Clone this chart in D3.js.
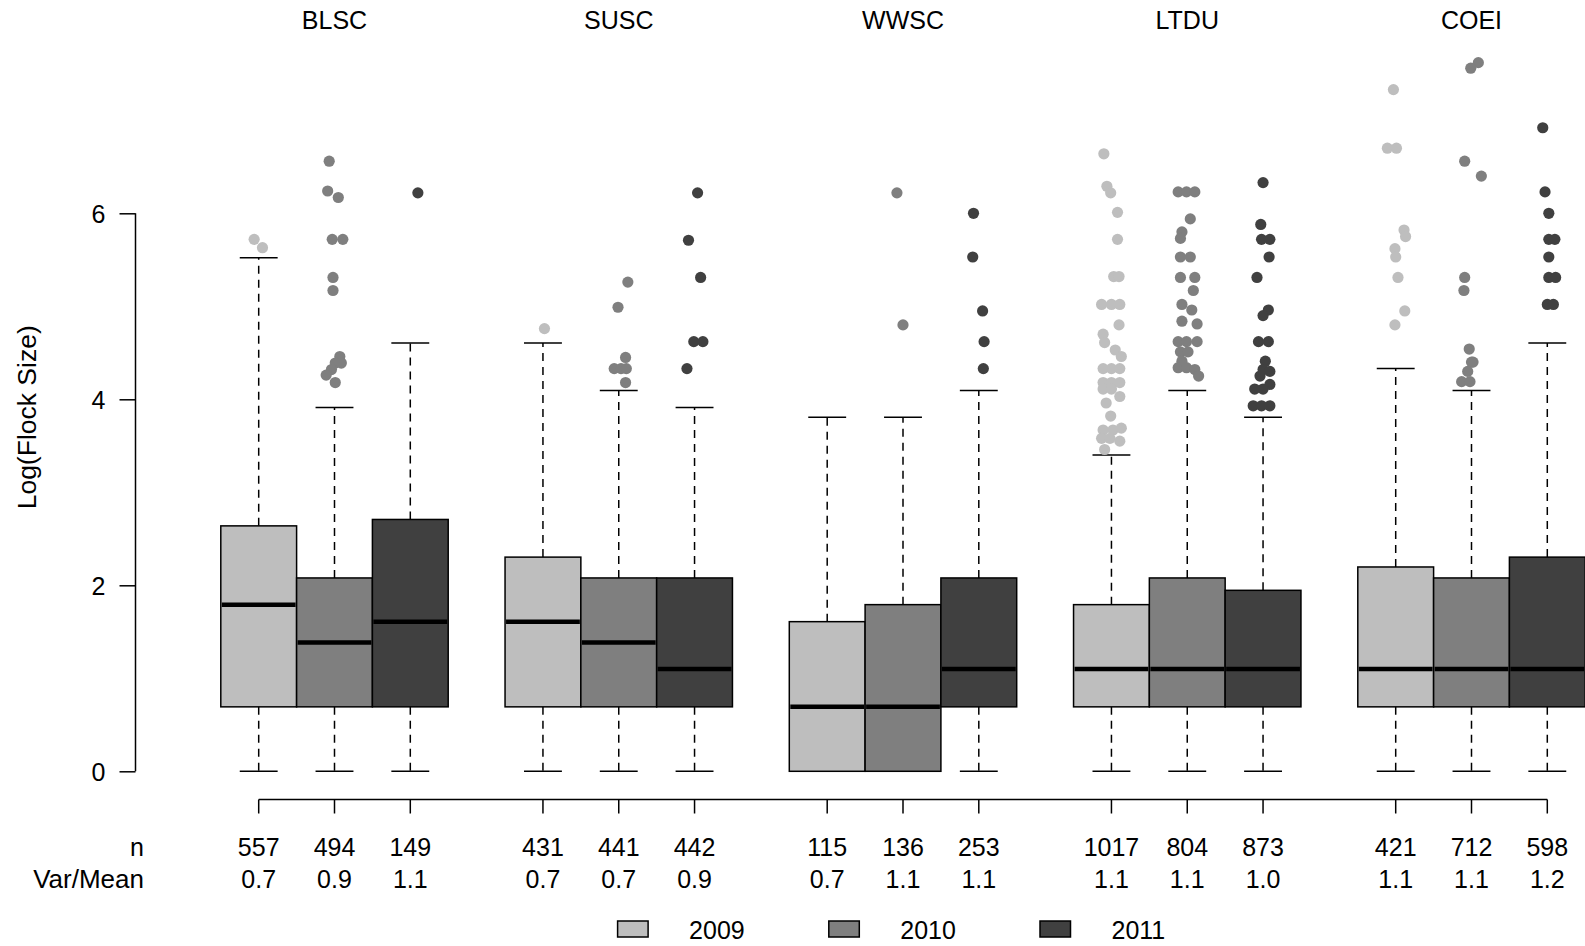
<!DOCTYPE html>
<html>
<head>
<meta charset="utf-8">
<script src="https://cdn.jsdelivr.net/npm/d3@7"></script>
<style>
  html, body { margin: 0; padding: 0; background: #fff; }
  svg text { font-family: "Liberation Sans", Arial, Helvetica, sans-serif; fill: #000; }
</style>
</head>
<body>
<div id="chart"></div>
<script>
// ---- data ----
const species = ["BLSC", "SUSC", "WWSC", "LTDU", "COEI"];
const years = ["2009", "2010", "2011"];
const yearColors = ["#bebebe", "#7f7f7f", "#404040"];
const yTicks = [0, 2, 4, 6];

// n per species x year
const nObs = [
  [557, 494, 149],
  [431, 441, 442],
  [115, 136, 253],
  [1017, 804, 873],
  [421, 712, 598]
];
// variance / mean ratio per species x year
const varMean = [
  ["0.7", "0.9", "1.1"],
  ["0.7", "0.7", "0.9"],
  ["0.7", "1.1", "1.1"],
  ["1.1", "1.1", "1.0"],
  ["1.1", "1.1", "1.2"]
];
// box stats [lower whisker, Q1, median, Q3, upper whisker] (log flock size)
const boxStats = [
  [[0, 0.693, 1.792, 2.639, 5.521], [0, 0.693, 1.386, 2.079, 3.912], [0, 0.693, 1.609, 2.708, 4.605]],
  [[0, 0.693, 1.609, 2.303, 4.605], [0, 0.693, 1.386, 2.079, 4.094], [0, 0.693, 1.099, 2.079, 3.912]],
  [[0, 0, 0.693, 1.609, 3.807], [0, 0, 0.693, 1.792, 3.807], [0, 0.693, 1.099, 2.079, 4.094]],
  [[0, 0.693, 1.099, 1.792, 3.401], [0, 0.693, 1.099, 2.079, 4.094], [0, 0.693, 1.099, 1.946, 3.807]],
  [[0, 0.693, 1.099, 2.197, 4.331], [0, 0.693, 1.099, 2.079, 4.094], [0, 0.693, 1.099, 2.303, 4.605]]
];
// outliers [value, horizontal jitter in box widths]
const outliers = [
  [
    [[5.72, -0.06], [5.63, 0.05]],
    [[6.56, -0.07], [6.24, -0.09], [6.17, 0.05], [5.72, -0.03], [5.72, 0.11], [5.31, -0.02], [5.17, -0.02],
     [4.46, 0.07], [4.39, 0.01], [4.39, 0.09], [4.32, -0.04], [4.26, -0.11], [4.18, 0.01]],
    [[6.22, 0.10]]
  ],
  [
    [[4.76, 0.02]],
    [[5.26, 0.12], [4.99, -0.01], [4.45, 0.09], [4.33, -0.06], [4.33, 0.03], [4.33, 0.10], [4.18, 0.09]],
    [[6.22, 0.04], [5.71, -0.08], [5.31, 0.08], [4.62, -0.01], [4.62, 0.11], [4.33, -0.10]]
  ],
  [
    [],
    [[6.22, -0.08], [4.80, 0.0]],
    [[6.00, -0.07], [5.53, -0.08], [4.95, 0.05], [4.62, 0.07], [4.33, 0.06]]
  ],
  [
    [[6.64, -0.10], [6.29, -0.06], [6.22, -0.01], [6.01, 0.08], [5.72, 0.08], [5.32, 0.03], [5.32, 0.10],
     [5.02, -0.13], [5.02, 0.0], [5.02, 0.11], [4.80, 0.10], [4.70, -0.11], [4.61, -0.09], [4.53, 0.05],
     [4.46, 0.13], [4.33, -0.11], [4.33, 0.0], [4.33, 0.11], [4.18, -0.11], [4.18, 0.0], [4.18, 0.11],
     [4.11, -0.11], [4.11, 0.0], [4.03, 0.11], [3.96, -0.07], [3.82, -0.01], [3.67, -0.11], [3.67, 0.02],
     [3.69, 0.13], [3.58, -0.13], [3.58, -0.02], [3.55, 0.11], [3.46, -0.09]],
    [[6.23, -0.12], [6.23, -0.01], [6.23, 0.10], [5.94, 0.04], [5.80, -0.07], [5.73, -0.09], [5.53, -0.09],
     [5.53, 0.04], [5.31, -0.09], [5.31, 0.10], [5.17, 0.08], [5.02, -0.07], [4.96, 0.06], [4.84, -0.07],
     [4.81, 0.13], [4.62, -0.12], [4.62, -0.01], [4.62, 0.13], [4.51, -0.09], [4.51, 0.01], [4.41, -0.07],
     [4.34, -0.12], [4.34, -0.01], [4.32, 0.10], [4.25, 0.15]],
    [[6.33, 0.0], [5.88, -0.03], [5.72, -0.02], [5.72, 0.09], [5.53, 0.08], [5.31, -0.08], [4.96, 0.07],
     [4.90, 0.0], [4.62, -0.06], [4.62, 0.07], [4.41, 0.03], [4.32, 0.0], [4.30, 0.09], [4.25, -0.04],
     [4.16, 0.09], [4.11, -0.11], [4.11, 0.0], [3.93, -0.13], [3.93, -0.02], [3.93, 0.09]]
  ],
  [
    [[7.33, -0.03], [6.70, -0.11], [6.70, 0.01], [5.82, 0.11], [5.75, 0.13], [5.62, -0.01], [5.53, 0.0],
     [5.31, 0.03], [4.95, 0.12], [4.80, -0.01]],
    [[7.62, 0.09], [7.56, -0.01], [6.56, -0.09], [6.40, 0.13], [5.31, -0.09], [5.17, -0.10], [4.54, -0.03],
     [4.40, 0.02], [4.40, 0.0], [4.30, -0.05], [4.19, -0.13], [4.19, -0.02]],
    [[6.92, -0.06], [6.23, -0.03], [6.00, 0.02], [5.72, 0.02], [5.72, 0.10], [5.53, 0.02], [5.31, 0.02],
     [5.31, 0.11], [5.02, 0.0], [5.02, 0.08]]
  ]
];

// ---- layout ----
const width = 1585, height = 946;
const groupStep = 3.75;          // box slots between species groups
const fontSize = 25;

const svg = d3.select("#chart").append("svg")
  .attr("width", width).attr("height", height)
  .attr("viewBox", [0, 0, width, height]);

// x in box-slot units, y in log flock size
const x = d3.scaleLinear().domain([0, 1]).range([258.7, 334.5]);
const y = d3.scaleLinear().domain([0, 6]).range([771.3, 213.3]);
const unit = x(1) - x(0);

const boxes = [];
species.forEach((sp, g) => {
  years.forEach((yr, j) => {
    const s = boxStats[g][j];
    boxes.push({
      g, j, pos: g * groupStep + j,
      lo: s[0], q1: s[1], med: s[2], q3: s[3], hi: s[4],
      out: outliers[g][j], n: nObs[g][j], vm: varMean[g][j]
    });
  });
});

// y axis
const yAxis = svg.append("g").attr("transform", `translate(135.5,0)`)
  .call(d3.axisLeft(y).tickValues(yTicks).tickSize(16).tickPadding(14).tickFormat(d3.format("d")));
yAxis.select(".domain").attr("d", `M0,${y(0)}V${y(6)}`).attr("stroke", "#000").attr("stroke-width", 1.5);
yAxis.selectAll(".tick line").attr("stroke", "#000").attr("stroke-width", 1.5);
yAxis.selectAll(".tick text").attr("font-size", fontSize).attr("font-family", null).attr("dy", "0.36em");

svg.append("text")
  .attr("transform", `translate(36,${(y(0) + y(6)) / 2 - 75}) rotate(-90)`)
  .attr("text-anchor", "middle")
  .attr("font-size", 26.5)
  .text("Log(Flock Size)");

// boxes
const bx = svg.append("g").selectAll("g").data(boxes).join("g");

// whiskers (dashed)
bx.append("line")
  .attr("x1", d => x(d.pos)).attr("x2", d => x(d.pos))
  .attr("y1", d => y(d.q3)).attr("y2", d => y(d.hi))
  .attr("stroke", "#000").attr("stroke-width", 1.5).attr("stroke-dasharray", "8,6");
bx.append("line")
  .attr("x1", d => x(d.pos)).attr("x2", d => x(d.pos))
  .attr("y1", d => y(d.q1)).attr("y2", d => y(d.lo))
  .attr("stroke", "#000").attr("stroke-width", 1.5).attr("stroke-dasharray", "8,6");

// staples
["hi", "lo"].forEach(k => {
  bx.append("line")
    .attr("x1", d => x(d.pos - 0.25)).attr("x2", d => x(d.pos + 0.25))
    .attr("y1", d => y(d[k])).attr("y2", d => y(d[k]))
    .attr("stroke", "#000").attr("stroke-width", 1.5);
});

// box rectangles
bx.append("rect")
  .attr("x", d => x(d.pos - 0.5))
  .attr("width", unit)
  .attr("y", d => y(d.q3))
  .attr("height", d => y(d.q1) - y(d.q3))
  .attr("fill", d => yearColors[d.j])
  .attr("stroke", "#000").attr("stroke-width", 1.5);

// medians
bx.append("line")
  .attr("x1", d => x(d.pos - 0.5) + 1).attr("x2", d => x(d.pos + 0.5) - 1)
  .attr("y1", d => y(d.med)).attr("y2", d => y(d.med))
  .attr("stroke", "#000").attr("stroke-width", 4.5);

// outliers
bx.selectAll("circle").data(d => d.out.map(o => ({ v: o[0], dx: o[1], pos: d.pos, j: d.j })))
  .join("circle")
  .attr("cx", d => x(d.pos + d.dx))
  .attr("cy", d => y(d.v))
  .attr("r", 5.6)
  .attr("fill", d => yearColors[d.j]);

// species titles
svg.append("g").selectAll("text").data(species).join("text")
  .attr("x", (d, g) => x(g * groupStep + 1))
  .attr("y", 28.5)
  .attr("text-anchor", "middle")
  .attr("font-size", fontSize)
  .text(d => d);

// bottom axis with n and Var/Mean rows
const xAxisY = 799.5;
svg.append("line")
  .attr("x1", x(boxes[0].pos)).attr("x2", x(boxes[boxes.length - 1].pos))
  .attr("y1", xAxisY).attr("y2", xAxisY)
  .attr("stroke", "#000").attr("stroke-width", 1.5);
svg.append("g").selectAll("line").data(boxes).join("line")
  .attr("x1", d => x(d.pos)).attr("x2", d => x(d.pos))
  .attr("y1", xAxisY).attr("y2", xAxisY + 14)
  .attr("stroke", "#000").attr("stroke-width", 1.5);

const rowN = 856, rowVM = 888;
svg.append("g").selectAll("text").data(boxes).join("text")
  .attr("x", d => x(d.pos)).attr("y", rowN)
  .attr("text-anchor", "middle").attr("font-size", fontSize)
  .text(d => d.n);
svg.append("g").selectAll("text").data(boxes).join("text")
  .attr("x", d => x(d.pos)).attr("y", rowVM)
  .attr("text-anchor", "middle").attr("font-size", fontSize)
  .text(d => d.vm);
svg.append("text").attr("x", 144).attr("y", rowN)
  .attr("text-anchor", "end").attr("font-size", fontSize).text("n");
svg.append("text").attr("x", 144).attr("y", rowVM)
  .attr("text-anchor", "end").attr("font-size", 26).text("Var/Mean");

// legend
const lx = d3.scaleLinear().domain([0, 2]).range([617.6, 1040]);
const leg = svg.append("g").selectAll("g").data(years).join("g")
  .attr("transform", (d, i) => `translate(${lx(i)},921)`);
leg.append("rect")
  .attr("width", 30.5).attr("height", 16)
  .attr("fill", (d, i) => yearColors[i])
  .attr("stroke", "#000").attr("stroke-width", 1.5);
leg.append("text")
  .attr("x", 71.5).attr("y", 17.5)
  .attr("font-size", fontSize)
  .text(d => d);
</script>
</body>
</html>
